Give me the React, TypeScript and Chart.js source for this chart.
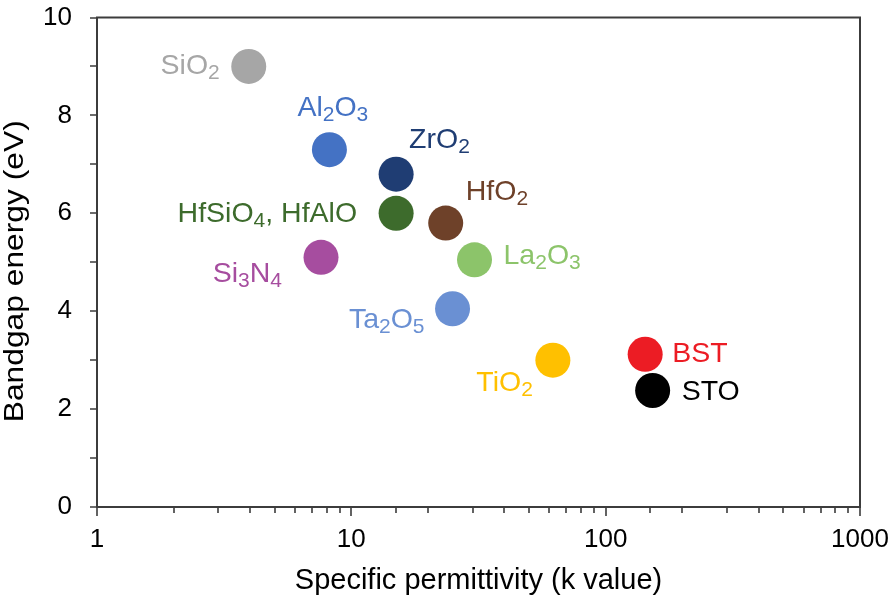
import { useEffect, useRef } from "react";
import { Chart, registerables } from "chart.js";

Chart.register(...registerables);

const materials = ["SiO2", "Al2O3", "ZrO2", "HfSiO4, HfAlO", "HfO2", "Si3N4", "La2O3", "Ta2O5", "TiO2", "BST", "STO"];
const kValues = [3.95, 8.2, 15, 15, 23.5, 7.6, 30.5, 25, 62, 143, 153];
const bandgaps = [9.0, 7.3, 6.8, 6.0, 5.8, 5.1, 5.05, 4.05, 3.0, 3.12, 2.38];
const pointColors = ["#a6a6a6", "#4472c4", "#1f3d73", "#3d6b2c", "#6e4129", "#a64d9f", "#8cc46a", "#6a90d3", "#ffc000", "#ec1c24", "#000000"];
const xTickLabels = [1, 10, 100, 1000];
const yTickLabels = [0, 2, 4, 6, 8, 10];
const xTitle = "Specific permittivity (k value)";
const yTitle = "Bandgap energy (eV)";

// label placement relative to the point: [dx, baseline dy, align]
const labelPlacement: [number, number, "left" | "right"][] = [
  [-29, 8, "right"],
  [-32, -34, "left"],
  [13, -26, "left"],
  [-39, 9, "right"],
  [20, -23, "left"],
  [-39, 25, "right"],
  [29, 4, "left"],
  [-28, 19, "right"],
  [-20, 31, "right"],
  [27, 8, "left"],
  [29, 10, "left"],
];

const FONT = "'Liberation Sans', Arial, sans-serif";
const LABEL_SIZE = 28.5;
const SUB_SIZE = 21;
const SUB_SHIFT = 5;
const Y_TITLE_SIZE = 27;
const Y_TITLE_LENGTH = 302;
const Y_TITLE_BASELINE_X = 23;

function splitFormula(s: string): { text: string; sub: boolean }[] {
  const out: { text: string; sub: boolean }[] = [];
  const re = /(\d+)|([^\d]+)/g;
  let m;
  while ((m = re.exec(s))) {
    if (m[1]) out.push({ text: m[1], sub: true });
    else out.push({ text: m[2], sub: false });
  }
  return out;
}

const labelPlugin = {
  id: "formulaLabels",
  afterDatasetsDraw(chart: any) {
    const ctx = chart.ctx;
    const meta = chart.getDatasetMeta(0);
    ctx.save();
    ctx.textBaseline = "alphabetic";
    ctx.textAlign = "left";
    meta.data.forEach((el: any, i: number) => {
      const { x, y } = el.getProps(["x", "y"], true);
      const [dx, dy, align] = labelPlacement[i];
      const segs = splitFormula(materials[i]);
      const widths = segs.map((s) => {
        ctx.font = `${s.sub ? SUB_SIZE : LABEL_SIZE}px ${FONT}`;
        return ctx.measureText(s.text).width;
      });
      const total = widths.reduce((a, b) => a + b, 0);
      let cx = align === "left" ? x + dx : x + dx - total;
      const by = y + dy;
      ctx.fillStyle = pointColors[i];
      segs.forEach((s, j) => {
        ctx.font = `${s.sub ? SUB_SIZE : LABEL_SIZE}px ${FONT}`;
        ctx.fillText(s.text, cx, s.sub ? by + SUB_SHIFT : by);
        cx += widths[j];
      });
    });
    ctx.restore();
  },
};

const framePlugin = {
  id: "frameTicks",
  afterDraw(chart: any) {
    const { ctx, chartArea } = chart;
    const { left, top, right, bottom } = chartArea;
    const xs = chart.scales.x;
    const ys = chart.scales.y;
    ctx.save();
    ctx.strokeStyle = "#3c3c3c";
    ctx.lineWidth = 2;
    ctx.strokeRect(left, top, right - left, bottom - top);
    ctx.beginPath();
    ctx.lineWidth = 1.6;
    xs.ticks.forEach((t: any) => {
      const px = Math.round(xs.getPixelForValue(t.value));
      const major = xTickLabels.includes(t.value);
      ctx.moveTo(px, bottom);
      ctx.lineTo(px, bottom + (major ? 9 : 6));
    });
    ys.ticks.forEach((t: any) => {
      const py = Math.round(ys.getPixelForValue(t.value));
      ctx.moveTo(left, py);
      ctx.lineTo(left - 7, py);
    });
    ctx.stroke();

    // y-axis title (stretched along its length like the reference)
    const cy = (top + bottom) / 2 + 9;
    ctx.font = `${Y_TITLE_SIZE}px ${FONT}`;
    const w = ctx.measureText(yTitle).width;
    ctx.translate(Y_TITLE_BASELINE_X, cy);
    ctx.rotate(-Math.PI / 2);
    ctx.scale(Y_TITLE_LENGTH / w, 1);
    ctx.fillStyle = "#000";
    ctx.textAlign = "center";
    ctx.textBaseline = "alphabetic";
    ctx.fillText(yTitle, 0, 0);
    ctx.restore();
  },
};

export default function App() {
  const ref = useRef<HTMLCanvasElement>(null);
  useEffect(() => {
    document.body.style.margin = "0";
    const canvas = ref.current!;
    const chart = new Chart(canvas, {
      type: "scatter",
      data: {
        datasets: [
          {
            data: kValues.map((k, i) => ({ x: k, y: bandgaps[i] })),
            backgroundColor: pointColors,
            borderWidth: 0,
            pointRadius: 17.5,
            pointHoverRadius: 17.5,
          },
        ],
      },
      options: {
        animation: false,
        responsive: false,
        events: [],
        layout: { padding: { left: 0, top: 15, right: 36, bottom: 0 } },
        plugins: { legend: { display: false }, tooltip: { enabled: false } },
        scales: {
          x: {
            type: "logarithmic",
            min: 1,
            max: 1000,
            grid: { display: false, drawTicks: false },
            border: { display: false },
            afterFit: (s: any) => {
              s.height = 94;
              s.paddingLeft = 0;
              s.paddingRight = 0;
            },
            ticks: {
              autoSkip: false,
              maxRotation: 0,
              minRotation: 0,
              padding: 17,
              color: "#000",
              font: { family: FONT, size: 26 },
              callback: (v: any) => (xTickLabels.includes(Number(v)) ? String(v) : ""),
            },
            title: {
              display: true,
              text: xTitle,
              color: "#000",
              font: { family: FONT, size: 29 },
              padding: { top: 0, bottom: 3 },
            },
          },
          y: {
            min: 0,
            max: 10,
            grid: { display: false, drawTicks: false },
            border: { display: false },
            afterFit: (s: any) => {
              s.width = 97;
              s.paddingTop = 0;
              s.paddingBottom = 0;
            },
            ticks: {
              stepSize: 1,
              autoSkip: false,
              padding: 25,
              color: "#000",
              font: { family: FONT, size: 26 },
              callback: (v: any) => (yTickLabels.includes(Number(v)) ? String(v) : ""),
            },
            title: { display: false },
          },
        },
      },
      plugins: [labelPlugin, framePlugin],
    });
    return () => chart.destroy();
  }, []);
  return (
    <div style={{ width: 896, height: 601 }}>
      <canvas ref={ref} width={896} height={601} style={{ display: "block", width: 896, height: 601 }} />
    </div>
  );
}
